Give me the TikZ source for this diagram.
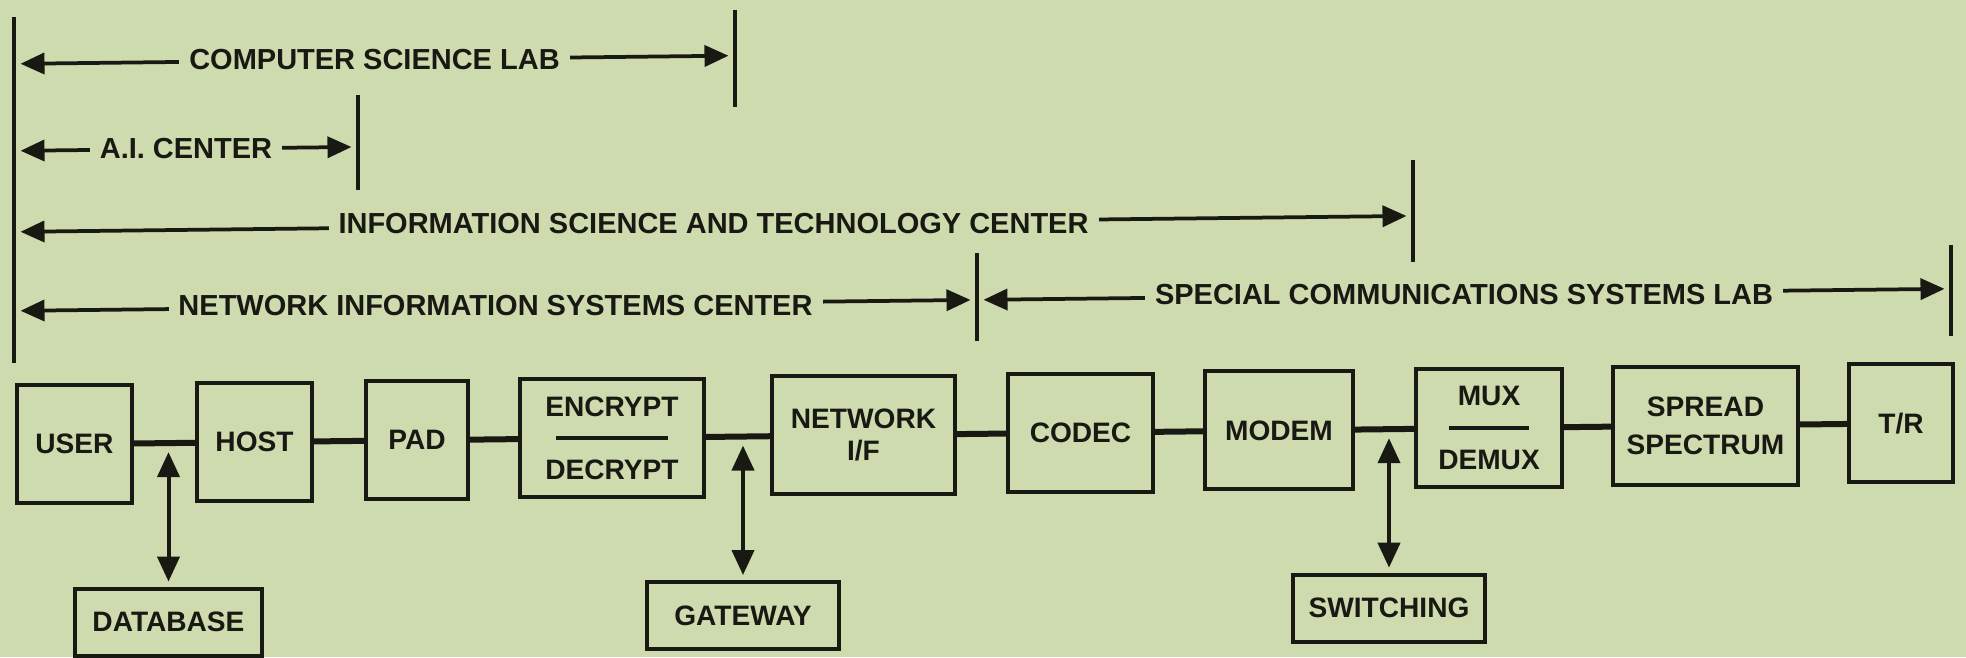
\documentclass[tikz,border=0pt]{standalone}
\usepackage{fontspec}
\setmainfont{Liberation Sans}
\usepackage{xcolor}
\usepackage{tikz}
\usetikzlibrary{arrows.meta}

\definecolor{paper}{RGB}{206,219,174}
\definecolor{ink}{RGB}{25,25,20}

\begin{document}
\begin{tikzpicture}[
    x=0.02cm, y=-0.02cm,
    block/.style={rectangle, draw=ink, text=ink, line width=0.08cm, minimum height=2.36cm, inner sep=0pt, align=center, font=\fontsize{16}{18}\selectfont\bfseries},
    sidebox/.style={block, minimum height=1.34cm},
    link/.style={draw=ink, line width=0.12cm},
    updown/.style={{Triangle[length=0.5cm,width=0.44cm]}-{Triangle[length=0.5cm,width=0.44cm]}, draw=ink, line width=0.08cm, shorten <=0.1cm, shorten >=0.18cm},
    range arrow/.style={{Triangle[length=0.48cm,width=0.42cm]}-{Triangle[length=0.48cm,width=0.42cm]}, draw=ink, line width=0.075cm, shorten <=0.13cm, shorten >=0.13cm},
    range end/.style={draw=ink, line width=0.07cm},
    range label/.style={fill=paper, text=ink, inner xsep=0.2cm, inner ysep=0.05cm, font=\fontsize{16.5}{18}\selectfont\bfseries}
]

% papier
\useasboundingbox (0,0) rectangle (1966,657);
\fill[paper] (0,0) rectangle (1966,657);

% scan staat iets scheef
\begin{scope}[yslant=0.0114]

% Organisaties
\draw[range end] (14,17) -- (14,363);
\draw[range end] (735,18) -- (735,115);
\draw[range end] (358,99) -- (358,194);
\draw[range end] (1413,176) -- (1413,278);
\draw[range end] (977,264) -- (977,352);
\draw[range end] (1951,267) -- (1951,358);

\coordinate (cslL) at (14,64);   \coordinate (cslR) at (735,64);
\coordinate (aicL) at (14,151);  \coordinate (aicR) at (358,151);
\coordinate (istL) at (14,232);  \coordinate (istR) at (1413,232);
\coordinate (nisL) at (14,311);  \coordinate (nisR) at (977,311);
\coordinate (scsR) at (1951,311);

\draw[range arrow] (cslL) -- node[range label] (csl) {COMPUTER SCIENCE LAB} (cslR);
\draw[range arrow] (aicL) -- node[range label] (aic) {A.I. CENTER} (aicR);
\draw[range arrow] (istL) -- node[range label] (ist) {INFORMATION SCIENCE AND TECHNOLOGY CENTER} (istR);
\draw[range arrow] (nisL) -- node[range label] (nis) {NETWORK INFORMATION SYSTEMS CENTER} (nisR);
\draw[range arrow] (nisR) -- node[range label] (scs) {SPECIAL COMMUNICATIONS SYSTEMS LAB} (scsR);

% Keten
\node[block, minimum width=2.30cm] (user)   at (74.5,445)  {USER};
\node[block, minimum width=2.30cm] (host)   at (254.5,445) {HOST};
\node[block, minimum width=2.04cm] (pad)    at (417,445)   {PAD};
\node[block, minimum width=3.68cm] (crypt)  at (612,445)   {ENCRYPT\\\rule[0.16cm]{2.26cm}{0.08cm}\\DECRYPT};
\node[block, minimum width=3.66cm] (netif)  at (863.5,445) {NETWORK\\I/F};
\node[block, minimum width=2.90cm] (codec)  at (1080.5,445) {CODEC};
\node[block, minimum width=2.96cm] (modem)  at (1279,445)  {MODEM};
\node[block, minimum width=2.92cm] (mux)    at (1489,445)  {MUX\\\rule[0.16cm]{1.6cm}{0.08cm}\\DEMUX};
\node[block, minimum width=3.70cm] (spread) at (1705.5,445) {SPREAD\\[0.12cm]SPECTRUM};
\node[block, minimum width=2.08cm] (tr)     at (1901,445)  {T/R};

\draw[link] (user) -- (host);
\draw[link] (host) -- (pad);
\draw[link] (pad) -- (crypt);
\draw[link] (crypt) -- (netif);
\draw[link] (netif) -- (codec);
\draw[link] (codec) -- (modem);
\draw[link] (modem) -- (mux);
\draw[link] (mux) -- (spread);
\draw[link] (spread) -- (tr);

% Aftakkingen
\node[sidebox, minimum width=3.74cm] (db)     at (168.5,624) {DATABASE};
\node[sidebox, minimum width=3.84cm] (gate)   at (743,624)   {GATEWAY};
\node[sidebox, minimum width=3.84cm] (switch) at (1389,624)  {SWITCHING};

\draw[updown] (db.north) -- (db.north |- user.center);
\draw[updown] (gate.north) -- (gate.north |- crypt.center);
\draw[updown] (switch.north) -- (switch.north |- modem.center);

\end{scope}

\end{tikzpicture}
\end{document}
